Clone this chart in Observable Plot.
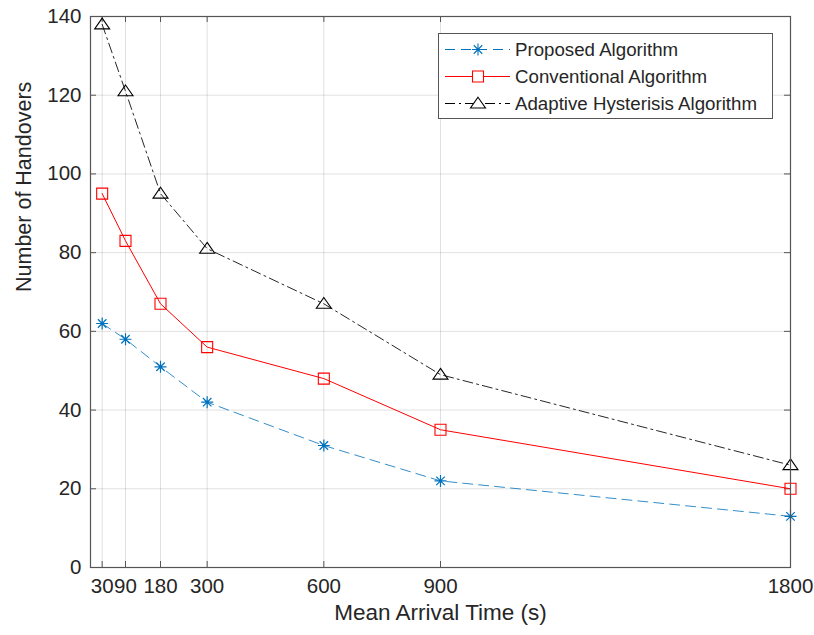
<!DOCTYPE html>
<html>
<head>
<meta charset="utf-8">
<script src="https://cdn.jsdelivr.net/npm/d3@7"></script>
<script src="https://cdn.jsdelivr.net/npm/@observablehq/plot@0.6"></script>
<style>
  body { margin: 0; background: #fff; }
  #wrap { position: relative; width: 814px; height: 635px; font-family: "Liberation Sans", Arial, sans-serif; }
  #legend { position: absolute; left: 438px; top: 33px; width: 335px; height: 86px; background: #fff;
            border: 1px solid #555; box-sizing: border-box; }
  #legend .row { position: absolute; left: 0; height: 27px; display: flex; align-items: center; }
  #legend .row span { font-size: 18.7px; color: #262626; margin-left: 4px; white-space: nowrap; }
</style>
</head>
<body>
<div id="wrap"></div>
<script>
// ---- data ----
const arrivalTimes = [30, 90, 180, 300, 600, 900, 1800];
const proposed = [62, 58, 51, 42, 31, 22, 13];
const conventional = [95, 83, 67, 56, 48, 35, 20];
const adaptive = [138, 121, 95, 81, 67, 49, 26];
const seriesNames = ["Proposed Algorithm", "Conventional Algorithm", "Adaptive Hysterisis Algorithm"];
const xTicks = [30, 90, 180, 300, 600, 900, 1800];
const yTicks = [0, 20, 40, 60, 80, 100, 120, 140];

const rows = (vals) => arrivalTimes.map((t, i) => ({t, v: vals[i]}));
const dProp = rows(proposed), dConv = rows(conventional), dAdap = rows(adaptive);

// ---- custom MATLAB-like markers ----
const asterisk = {draw(ctx, size) {
  const r = Math.sqrt(size / Math.PI), d = r * Math.SQRT1_2;
  ctx.moveTo(-r, 0); ctx.lineTo(r, 0);
  ctx.moveTo(0, -r); ctx.lineTo(0, r);
  ctx.moveTo(-d, -d); ctx.lineTo(d, d);
  ctx.moveTo(-d, d); ctx.lineTo(d, -d);
}};
const square = {draw(ctx, size) {
  const r = Math.sqrt(size / Math.PI);
  ctx.rect(-r, -r, 2 * r, 2 * r);
}};
const triangle = {draw(ctx, size) {
  const r = Math.sqrt(size / Math.PI);
  ctx.moveTo(0, -r * 1.05); ctx.lineTo(r * 1.25, r * 0.75); ctx.lineTo(-r * 1.25, r * 0.75); ctx.closePath();
}};

const W = 814, H = 635, mT = 16, mR = 24, mB = 68, mL = 90;
const iw = W - mL - mR, ih = H - mT - mB;
const axisColor = "#555";
const BLUE = "#0072BD", RED = "#FF0000", BLACK = "#000";
const DASH = "10,6", DASHDOT = "10,4,2,4";

const chart = Plot.plot({
  width: W, height: H,
  marginTop: mT, marginRight: mR, marginBottom: mB, marginLeft: mL,
  style: {fontFamily: '"Liberation Sans", Arial, sans-serif', background: "#fff", color: "#262626"},
  x: {domain: [0, 1800]},
  y: {domain: [0, 140]},
  marks: [
    Plot.gridX(xTicks, {stroke: "#000", strokeOpacity: 0.12}),
    Plot.gridY(yTicks, {stroke: "#000", strokeOpacity: 0.12}),
    // inward ticks on all four sides
    Plot.ruleX(xTicks, {x: d => d, insetTop: ih - 6, stroke: axisColor}),
    Plot.ruleX(xTicks, {x: d => d, insetBottom: ih - 6, stroke: axisColor}),
    Plot.ruleY(yTicks, {y: d => d, insetRight: iw - 6, stroke: axisColor}),
    Plot.ruleY(yTicks, {y: d => d, insetLeft: iw - 6, stroke: axisColor}),
    Plot.axisX(xTicks, {tickSize: 0, tickPadding: 11, fontSize: 20.5, tickFormat: d => String(d), label: null, color: "#262626"}),
    Plot.axisY(yTicks, {tickSize: 0, tickPadding: 9, fontSize: 20.5, tickFormat: d => String(d), label: null, color: "#262626"}),
    Plot.text(["Mean Arrival Time (s)"], {frameAnchor: "bottom", dy: 52, fontSize: 22.5, fill: "#262626"}),
    Plot.text(["Number of Handovers"], {frameAnchor: "left", dx: -66, rotate: -90, fontSize: 21.5, fill: "#262626"}),
    // series
    Plot.line(dAdap, {x: "t", y: "v", stroke: BLACK, strokeWidth: 1, strokeOpacity: 0.85, strokeDasharray: DASHDOT}),
    Plot.line(dConv, {x: "t", y: "v", stroke: RED, strokeWidth: 1}),
    Plot.line(dProp, {x: "t", y: "v", stroke: BLUE, strokeWidth: 1, strokeOpacity: 0.8, strokeDasharray: DASH}),
    Plot.dot(dAdap, {x: "t", y: "v", symbol: triangle, r: 6, stroke: BLACK, fill: "none", strokeWidth: 1.1}),
    Plot.dot(dConv, {x: "t", y: "v", symbol: square, r: 5.5, stroke: RED, fill: "none", strokeWidth: 1.1}),
    Plot.dot(dProp, {x: "t", y: "v", symbol: asterisk, r: 6, stroke: BLUE, fill: "none", strokeWidth: 1.2}),
    Plot.frame({stroke: axisColor, strokeWidth: 1.2})
  ]
});

const wrap = document.getElementById("wrap");
wrap.appendChild(chart);

// ---- legend ----
const legend = document.createElement("div");
legend.id = "legend";
const samples = [
  {color: BLUE, dash: DASH, marker: "asterisk"},
  {color: RED, dash: null, marker: "square"},
  {color: BLACK, dash: DASHDOT, marker: "triangle"}
];
samples.forEach((s, i) => {
  const row = document.createElement("div");
  row.className = "row";
  row.style.top = (2 + i * 27) + "px";
  const svg = d3.create("svg").attr("width", 72).attr("height", 27);
  svg.append("line").attr("x1", 6).attr("x2", 71).attr("y1", 13.5).attr("y2", 13.5)
    .attr("stroke", s.color).attr("stroke-width", 1).attr("stroke-dasharray", s.dash);
  const path = d3.path();
  const sym = s.marker === "asterisk" ? asterisk : s.marker === "square" ? square : triangle;
  const rr = s.marker === "square" ? 5.5 : 6;
  sym.draw(path, Math.PI * rr * rr);
  svg.append("path").attr("d", path.toString()).attr("transform", "translate(39,13.5)")
    .attr("fill", s.marker === "asterisk" ? "none" : "#fff").attr("stroke", s.color).attr("stroke-width", 1.1);
  row.appendChild(svg.node());
  const label = document.createElement("span");
  label.textContent = seriesNames[i];
  row.appendChild(label);
  legend.appendChild(row);
});
wrap.appendChild(legend);
</script>
</body>
</html>
